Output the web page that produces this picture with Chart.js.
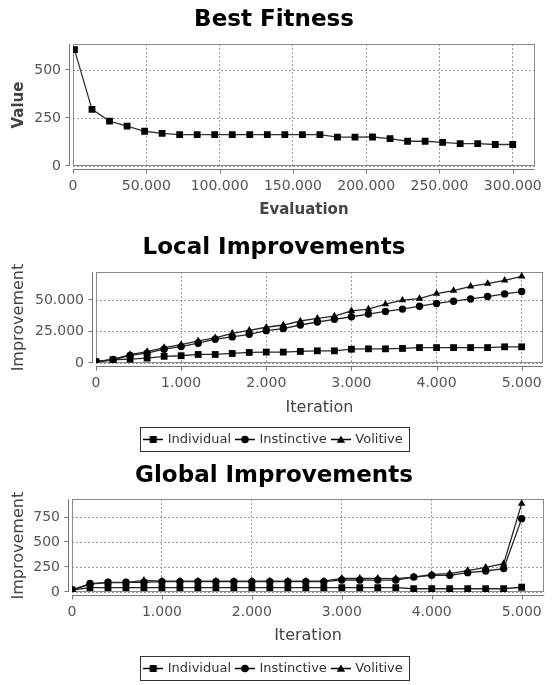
<!DOCTYPE html>
<html>
<head>
<meta charset="utf-8">
<script src="https://cdn.jsdelivr.net/npm/chart.js@4.4.1/dist/chart.umd.min.js"></script>
<style>
  html, body { margin: 0; padding: 0; background: #fff; }
  #wrap { position: relative; width: 554px; height: 685px; overflow: hidden; }
  canvas { position: absolute; left: 0; }
</style>
</head>
<body>
<div id="wrap">
  <canvas id="best" width="554" height="228" style="top:0"></canvas>
  <canvas id="local" width="554" height="229" style="top:227px"></canvas>
  <canvas id="global" width="554" height="229" style="top:456px"></canvas>
</div>
<script>
// data
const bestEval = [1000, 12960, 24920, 36880, 48840, 60800, 72760, 84720, 96680, 108640, 120600, 132560, 144520,
  156480, 168440, 180400, 192360, 204320, 216280, 228240, 240200, 252160, 264120, 276080, 288040, 300000];
const bestValue = [606, 295, 234, 208, 181, 170, 163, 163, 163, 163, 163, 163, 163,
  163, 163, 150, 150, 151, 143, 129, 129, 123, 117, 117, 112, 112];

const iterations = [0, 200, 400, 600, 800, 1000, 1200, 1400, 1600, 1800, 2000, 2200, 2400,
  2600, 2800, 3000, 3200, 3400, 3600, 3800, 4000, 4200, 4400, 4600, 4800, 5000];

const localIndividual = [1000, 2600, 3100, 3900, 5300, 5800, 6800, 6800, 7600, 8400, 8700, 8700, 9200,
  9700, 9700, 11000, 11300, 11300, 11600, 12300, 12300, 12300, 12300, 12300, 12900, 12900];
const localInstinctive = [1000, 2600, 6000, 7900, 11000, 13100, 15800, 19000, 20800, 22900, 25800, 27400, 30300,
  32700, 34800, 36900, 39000, 41100, 43000, 45300, 47500, 49300, 51100, 53000, 55100, 57000];
const localVolitive = [1000, 2800, 6700, 9100, 12300, 14600, 17700, 20100, 23700, 26100, 28500, 30300, 33500,
  35600, 37400, 41600, 43000, 46900, 50100, 51400, 55400, 57700, 61200, 63300, 65900, 69100];

const globalIndividual = [20, 45, 45, 45, 45, 45, 45, 45, 45, 45, 45, 45, 45,
  45, 45, 45, 45, 45, 45, 33, 33, 33, 33, 33, 33, 48];
const globalInstinctive = [20, 85, 98, 98, 98, 105, 105, 105, 105, 105, 105, 105, 105,
  105, 105, 121, 121, 120, 121, 151, 168, 168, 195, 212, 236, 740];
const globalVolitive = [20, 80, 95, 95, 118, 110, 110, 110, 110, 110, 110, 110, 110,
  110, 110, 138, 138, 138, 135, 151, 178, 185, 216, 249, 286, 891];

const bestXTicks = [0, 50000, 100000, 150000, 200000, 250000, 300000];
const bestYTicks = [0, 250, 500];
const iterTicks = [0, 1000, 2000, 3000, 4000, 5000];
const localYTicks = [0, 25000, 50000];
const globalYTicks = [0, 250, 500, 750];

const seriesNames = ['Individual', 'Instinctive', 'Volitive'];
const seriesShapes = ['rect', 'circle', 'triangle'];
const shapeRadius = { rect: 4.8, circle: 3.7, triangle: 4.3 };

Chart.defaults.font.family = "'DejaVu Sans', Verdana, sans-serif";
Chart.defaults.animation = false;

function dots(v) {
  return String(v).replace(/\B(?=(\d{3})+(?!\d))/g, '.');
}

function series(label, xs, ys, shape) {
  return {
    label,
    data: xs.map((x, i) => ({ x, y: ys[i] })),
    borderColor: '#262626',
    borderWidth: 1.3,
    backgroundColor: '#000',
    pointBackgroundColor: '#000',
    pointBorderWidth: 0,
    pointStyle: shape,
    pointRadius: shapeRadius[shape],
    tension: 0
  };
}

function legendIcon(shape) {
  const c = document.createElement('canvas');
  c.width = 20;
  c.height = 13;
  const g = c.getContext('2d');
  g.strokeStyle = '#000';
  g.lineWidth = 1.5;
  g.beginPath();
  g.moveTo(0, 6.5);
  g.lineTo(20, 6.5);
  g.stroke();
  g.fillStyle = '#000';
  g.beginPath();
  if (shape === 'rect') g.rect(6.5, 3, 7, 7);
  else if (shape === 'circle') g.arc(10, 6.5, 3.8, 0, Math.PI * 2);
  else { g.moveTo(10, 2.5); g.lineTo(14.2, 9.8); g.lineTo(5.8, 9.8); g.closePath(); }
  g.fill();
  return c;
}
const legendIcons = seriesShapes.map(legendIcon);

// plot outline, offset axis lines and the legend box
const framePlugin = {
  id: 'frame',
  beforeDatasetsDraw(chart) {
    const { ctx, chartArea: a, scales } = chart;
    ctx.save();
    ctx.lineWidth = 1;
    ctx.strokeStyle = '#8a8a8a';
    ctx.strokeRect(Math.round(a.left) + 0.5, Math.round(a.top) + 0.5,
      Math.round(a.right - a.left) - 1, Math.round(a.bottom - a.top) - 1);

    ctx.strokeStyle = '#777';
    ctx.beginPath();
    const ax = Math.round(a.left) - 3.5;
    ctx.moveTo(ax, a.top);
    ctx.lineTo(ax, a.bottom);
    scales.y.ticks.forEach(t => {
      const y = Math.round(scales.y.getPixelForValue(t.value)) - 0.5;
      ctx.moveTo(ax - 4, y);
      ctx.lineTo(ax, y);
    });
    const ay = Math.round(a.bottom) + 3.5;
    ctx.moveTo(a.left, ay);
    ctx.lineTo(a.right, ay);
    scales.x.ticks.forEach(t => {
      const x = Math.round(scales.x.getPixelForValue(t.value)) + 0.5;
      ctx.moveTo(x, ay);
      ctx.lineTo(x, ay + 4);
    });
    ctx.stroke();
    ctx.restore();
  },
  afterDraw(chart) {
    const lg = chart.legend;
    if (!lg || !lg.options.display || !lg.legendHitBoxes.length) return;
    const hb = lg.legendHitBoxes;
    const l = Math.min(...hb.map(h => h.left)) - 5;
    const r = Math.max(...hb.map(h => h.left + h.width)) + 6;
    const t = hb[0].top - 6;
    const b = hb[0].top + hb[0].height + 5;
    const ctx = chart.ctx;
    ctx.save();
    ctx.strokeStyle = '#333';
    ctx.lineWidth = 1;
    ctx.strokeRect(Math.round(l) + 0.5, Math.round(t) + 0.5, Math.round(r - l), Math.round(b - t));
    ctx.restore();
  }
};

function axis(opts) {
  return {
    type: 'linear',
    position: opts.position,
    min: 0,
    max: opts.max,
    afterBuildTicks: s => { s.ticks = opts.ticks.map(v => ({ value: v })); },
    afterFit: opts.fit,
    grid: { color: '#9a9a9a', lineWidth: 1, drawTicks: false },
    border: { display: false, dash: [2, 2] },
    ticks: {
      padding: opts.tickPad,
      color: '#555',
      font: { size: 14 },
      maxRotation: 0,
      callback: v => dots(v)
    },
    title: {
      display: true,
      text: opts.title,
      color: '#444',
      font: opts.titleFont,
      padding: opts.titlePad
    }
  };
}

function makeChart(id, o) {
  return new Chart(document.getElementById(id), {
    type: 'line',
    data: { datasets: o.datasets },
    plugins: [framePlugin],
    options: {
      responsive: false,
      animation: false,
      layout: { padding: { left: 0, right: 6, top: 0, bottom: 0 } },
      plugins: {
        tooltip: { enabled: false },
        title: {
          display: true,
          text: o.title,
          color: '#000',
          font: { size: 23, weight: 'bold' },
          padding: o.titlePad
        },
        legend: {
          display: o.legend,
          position: 'bottom',
          labels: {
            usePointStyle: true,
            pointStyleWidth: 16,
            padding: 6,
            color: '#333',
            font: { size: 13 },
            generateLabels: chart => Chart.defaults.plugins.legend.labels.generateLabels(chart)
              .map((item, i) => Object.assign(item, { pointStyle: legendIcons[i] }))
          }
        }
      },
      scales: {
        x: axis({
          position: 'bottom', max: o.xMax, ticks: o.xTicks, tickPad: 12,
          fit: s => { s.height = o.xHeight; },
          title: o.xTitle, titleFont: o.axisFont, titlePad: { top: 0, bottom: o.xTitlePad }
        }),
        y: axis({
          position: 'left', max: o.yMax, ticks: o.yTicks, tickPad: 12,
          fit: s => { s.width = o.yWidth; },
          title: o.yTitle, titleFont: o.axisFont, titlePad: { top: o.yTitlePad, bottom: 0 }
        })
      }
    }
  });
}

makeChart('best', {
  title: 'Best Fitness',
  titlePad: { top: 6, bottom: 10.5 },
  legend: false,
  datasets: [Object.assign(series('Best Fitness', bestEval, bestValue, 'rect'), { borderColor: '#333' })],
  xMax: 315000, xTicks: bestXTicks, xHeight: 62, xTitle: 'Evaluation', xTitlePad: 9,
  yMax: 635, yTicks: bestYTicks, yWidth: 73, yTitle: 'Value', yTitlePad: 10,
  axisFont: { size: 15, weight: 'bold' }
});

makeChart('local', {
  title: 'Local Improvements',
  titlePad: { top: 7, bottom: 10.5 },
  legend: true,
  datasets: [
    series(seriesNames[0], iterations, localIndividual, seriesShapes[0]),
    series(seriesNames[1], iterations, localInstinctive, seriesShapes[1]),
    series(seriesNames[2], iterations, localVolitive, seriesShapes[2])
  ],
  xMax: 5250, xTicks: iterTicks, xHeight: 64, xTitle: 'Iteration', xTitlePad: 10,
  yMax: 72500, yTicks: localYTicks, yWidth: 96, yTitle: 'Improvement', yTitlePad: 9.4,
  axisFont: { size: 16 }
});

makeChart('global', {
  title: 'Global Improvements',
  titlePad: { top: 6, bottom: 9.7 },
  legend: true,
  datasets: [
    series(seriesNames[0], iterations, globalIndividual, seriesShapes[0]),
    series(seriesNames[1], iterations, globalInstinctive, seriesShapes[1]),
    series(seriesNames[2], iterations, globalVolitive, seriesShapes[2])
  ],
  xMax: 5250, xTicks: iterTicks, xHeight: 64, xTitle: 'Iteration', xTitlePad: 11,
  yMax: 935, yTicks: globalYTicks, yWidth: 72, yTitle: 'Improvement', yTitlePad: 9.4,
  axisFont: { size: 16 }
});
</script>
</body>
</html>
